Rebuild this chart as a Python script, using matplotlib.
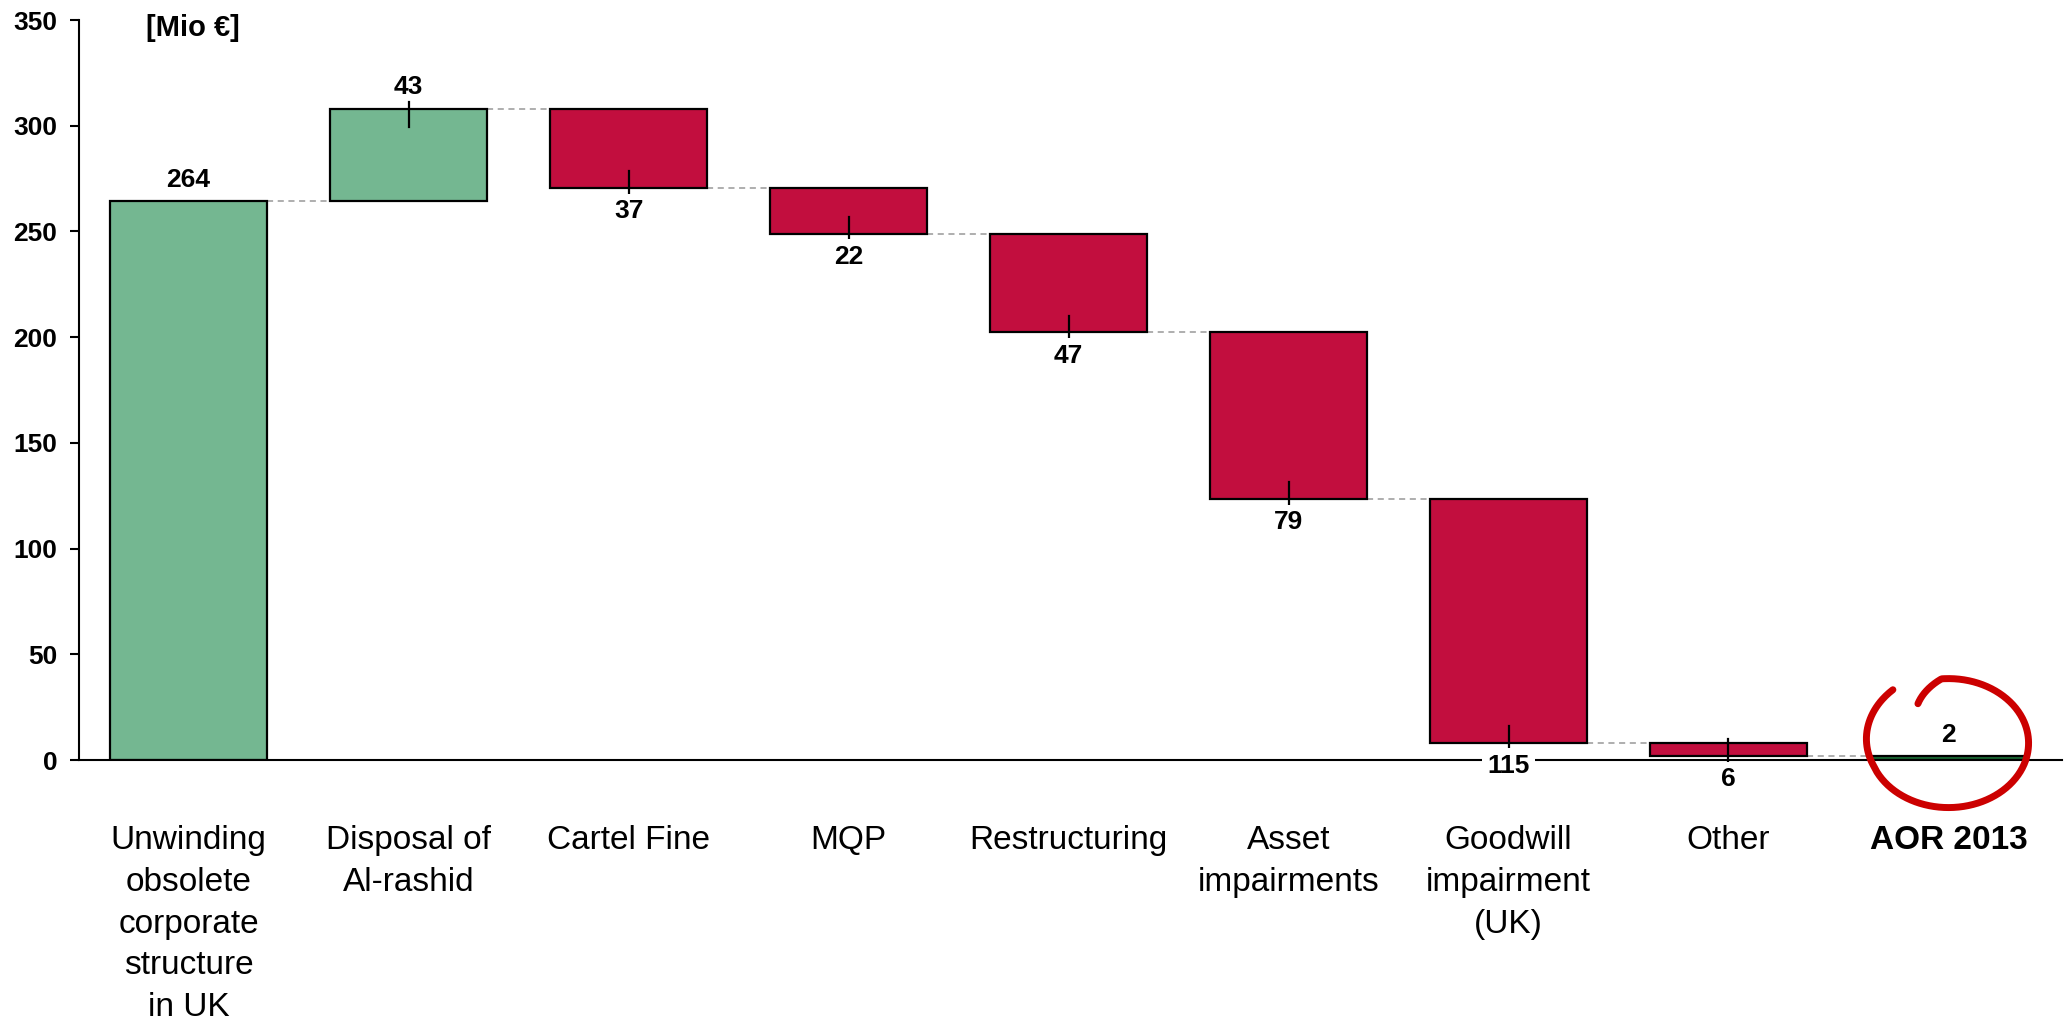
import numpy as np
import matplotlib
matplotlib.use("Agg")
import matplotlib.pyplot as plt
import matplotlib.transforms as mtransforms
from matplotlib import font_manager as fm

# ---------------- data ----------------
categories = [
    "Unwinding\nobsolete\ncorporate\nstructure\nin UK",
    "Disposal of\nAl-rashid",
    "Cartel Fine",
    "MQP",
    "Restructuring",
    "Asset\nimpairments",
    "Goodwill\nimpairment\n(UK)",
    "Other",
    "AOR 2013",
]
start_value = 264.3
deltas = [43.4, -37.1, -21.6, -46.8, -78.6, -115.4, -6.2]
yticks = [0, 50, 100, 150, 200, 250, 300, 350]
unit_label = "[Mio €]"

# ---------------- style ----------------
GREEN = "#74B791"
RED = "#C20E3E"
DARK_GREEN = "#1B6B35"
CIRCLE_RED = "#CC0000"
FONT = "Liberation Sans"
names = {f.name for f in fm.fontManager.ttflist}
NARROW = "Liberation Sans Narrow" if "Liberation Sans Narrow" in names else FONT
plt.rcParams["font.family"] = [FONT, "DejaVu Sans"]

# ---------------- derived ----------------
levels = [start_value]
for d in deltas:
    levels.append(levels[-1] + d)
final_value = levels[-1]

n = len(categories)
x = np.arange(n)
bottoms = [0.0] + [min(levels[i], levels[i + 1]) for i in range(len(deltas))] + [0.0]
heights = [start_value] + [abs(d) for d in deltas] + [final_value]
colors = [GREEN] + [GREEN if d > 0 else RED for d in deltas] + [DARK_GREEN]
width = 0.715

fig = plt.figure(figsize=(20.67, 10.23), dpi=100)
ax = fig.add_axes([79 / 2067, 1 - 760 / 1023, (2062 - 79) / 2067, 740 / 1023])

ax.bar(x, heights, bottom=bottoms, width=width, color=colors,
       edgecolor="black", linewidth=1.6, zorder=2)

# connectors
for i in range(n - 1):
    lvl = levels[i] if i < len(levels) else final_value
    ax.plot([x[i] + width / 2, x[i + 1] - width / 2], [lvl, lvl],
            ls=(0, (4, 3)), color="#999999", lw=1.1, zorder=1)

# value labels and small marks
lab_kw = dict(fontsize=19, fontweight="bold", ha="center", clip_on=False, zorder=5)
ax.annotate(f"{start_value:.0f}", (x[0], start_value), xytext=(0, 10),
            textcoords="offset points", va="baseline", **lab_kw)
for i, d in enumerate(deltas, start=1):
    if d > 0:
        top = levels[i]
        ax.plot([x[i], x[i]], [top - 8.5, top + 3.3], color="black", lw=1.6, zorder=4)
        ax.annotate(f"{abs(d):.0f}", (x[i], top), xytext=(0, 11),
                    textcoords="offset points", va="baseline", **lab_kw)
    else:
        bot = levels[i]
        ax.plot([x[i], x[i]], [bot - 2.8, bot + 8.0], color="black", lw=1.6,
                zorder=4, clip_on=False)
        ax.annotate(f"{abs(d):.0f}", (x[i], bot), xytext=(0, -8),
                    textcoords="offset points", va="top",
                    bbox=dict(boxstyle="square,pad=0.2", fc="white", ec="none"),
                    **lab_kw)
ax.annotate(f"{final_value:.0f}", (x[-1], final_value), xytext=(0, 10),
            textcoords="offset points", va="baseline", **lab_kw)

# hand-drawn circle around the final bar
t = np.radians(np.linspace(130, 482, 400))
r = np.ones_like(t)
deg = np.degrees(t)
r = np.where(deg < 200, 1.08 - 0.08 * (deg - 130) / 70, r)
r = np.where(deg > 455, 1.0 - 0.28 * (deg - 455) / 27, r)
cx, cy, rx, ry = x[-1], 8.0, 0.364, 30.5
ax.plot(cx + rx * r * np.cos(t), cy + ry * r * np.sin(t), color=CIRCLE_RED,
        lw=5.0, solid_capstyle="round", clip_on=False, zorder=6)

# axes styling
ax.set_xlim(-0.498, 8.516)
ax.set_ylim(0, 350)
ax.set_yticks(yticks)
ax.set_yticklabels([str(v) for v in yticks], fontsize=19, fontweight="bold")
ax.tick_params(axis="y", direction="out", length=6.5, width=1.5, pad=9)
ax.set_xticks([])
for s in ["top", "right"]:
    ax.spines[s].set_visible(False)
ax.spines["left"].set_linewidth(1.5)
ax.spines["bottom"].set_linewidth(1.5)

# category labels
trans = mtransforms.blended_transform_factory(ax.transData, ax.transAxes)
for i, c in enumerate(categories):
    bold = i == n - 1
    fam = NARROW if i >= 6 else FONT
    ax.text(x[i], -0.0885, c, transform=trans, ha="center", va="top",
            multialignment="center", fontsize=24, family=[fam, "DejaVu Sans"],
            fontweight="bold" if bold else "normal", linespacing=1.44,
            clip_on=False)

ax.text(0.0575, 0.989, unit_label, transform=ax.transAxes, ha="center",
        va="center", fontsize=21, fontweight="bold")

fig.savefig("out.png", dpi=100)
